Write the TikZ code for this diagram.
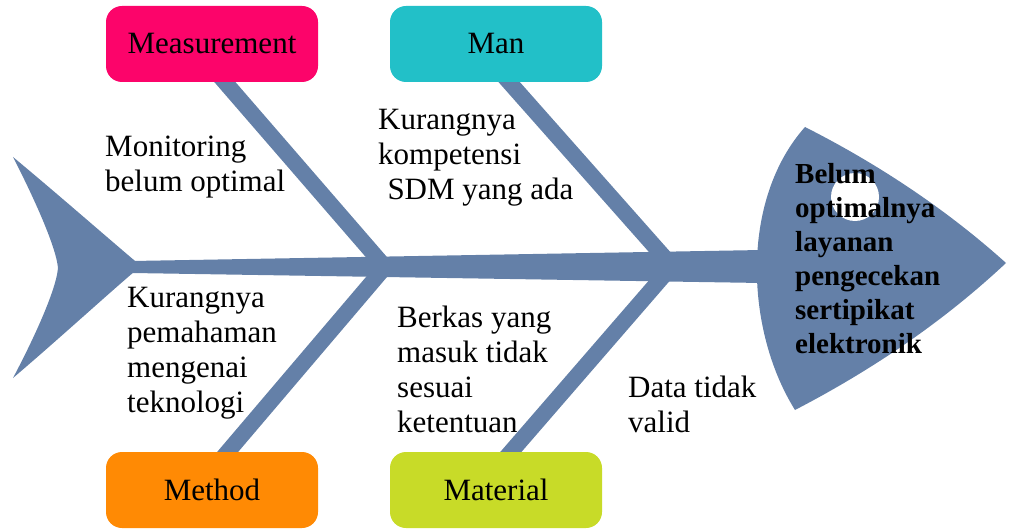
\documentclass[tikz,border=0pt]{standalone}
\usepackage{fontspec}
\setmainfont{Liberation Serif}
\usepackage{tikz}
\usetikzlibrary{calc,backgrounds}
\definecolor{BoneBlue}{RGB}{100,128,168}
\definecolor{MeasPink}{RGB}{252,4,106}
\definecolor{ManCyan}{RGB}{34,192,200}
\definecolor{MethOrange}{RGB}{255,138,4}
\definecolor{MatLime}{RGB}{200,219,40}

\begin{document}
\begin{tikzpicture}[x=1pt, y=-1pt,
    cat/.style={rounded corners=16pt, minimum width=212pt, minimum height=76pt, inner sep=0pt, font=\fontsize{31}{35}\selectfont},
    note/.style={anchor=north west, align=left, inner sep=0pt, font=\fontsize{31}{35}\selectfont},
    bone/.style={draw=BoneBlue, line width=16pt}
]
\useasboundingbox (0,0) rectangle (1011,529);
% spine, tail and head
\fill[BoneBlue] (132,261) -- (762,250) -- (762,283) -- (132,273) -- cycle;
\fill[BoneBlue] (13,157) .. controls (60,196) and (110,240) .. (141,266)
    .. controls (110,292) and (60,338) .. (13,378)
    .. controls (30,346) and (56,292) .. (58,268)
    .. controls (56,245) and (30,190) .. (13,157) -- cycle;
\fill[BoneBlue] (805,127) .. controls (878,164) and (946,209) .. (1006,263)
    .. controls (943,322) and (872,370) .. (795,410)
    .. controls (745,330) and (740,200) .. (805,127) -- cycle;
\fill[white] (855,197) circle (24);
\coordinate (j1) at (385,267);
\coordinate (j2) at (672,266);

% categories
\node[cat, fill=MeasPink] (meas) at (212,44) {Measurement};
\node[cat, fill=ManCyan] (man) at (496,44) {Man};
\node[cat, fill=MethOrange] (method) at (212,490) {Method};
\node[cat, fill=MatLime] (material) at (496,490) {Material};

\begin{scope}[on background layer]
\draw[bone] ([yshift=15pt]meas.south) -- (j1);
\draw[bone] ([yshift=15pt]man.south) -- (j2);
\draw[bone] ([xshift=3pt,yshift=-15pt]method.north) -- (j1);
\draw[bone] ([xshift=2pt,yshift=-15pt]material.north) -- (j2);
\end{scope}

% causes
\node[note] (mon) at (105,136) {Monitoring\\belum optimal};
\node[note] (sdm) at (378,109) {Kurangnya\\kompetensi\\\hspace*{0.3em}SDM yang ada};
\node[note] (tek) at (127,287) {Kurangnya\\pemahaman\\mengenai\\teknologi};
\node[note] (berkas) at (397,306) {Berkas yang\\masuk tidak\\sesuai\\ketentuan};
\node[note] (data) at (628,376) {Data tidak\\valid};

% effect
\node[note, font=\bfseries\fontsize{29}{34}\selectfont] (effect) at (795,163)
    {Belum\\optimalnya\\layanan\\pengecekan\\sertipikat\\elektronik};
\end{tikzpicture}
\end{document}
